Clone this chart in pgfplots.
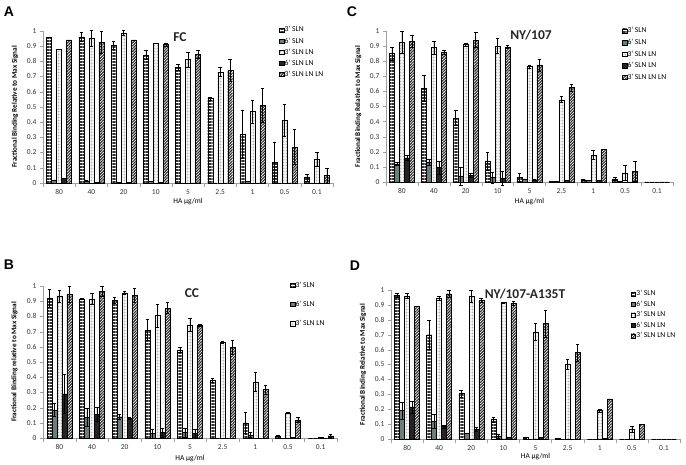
\documentclass[border=0pt]{standalone}
\usepackage{pgfplots}
\pgfplotsset{compat=1.18}
\usepackage{pgfplotstable}
\usepackage{fontspec}
\setmainfont{Carlito}
\newfontfamily\lsans{Liberation Sans}
\usetikzlibrary{patterns,patterns.meta}

\definecolor{sixsln}{HTML}{6B7E7C}
\definecolor{sixslnln}{HTML}{242424}
\definecolor{axgray}{HTML}{A0A0A0}

% columns: value and error for 3'SLN, 6'SLN, 3'SLN LN, 6'SLN LN, 3'SLN LN LN
\pgfplotstableread{
x   a     ae    b     be    c     ce    d     de    e     ee
0.5 0.96  0     0.02  0     0.88  0     0.03  0     0.94  0
1.5 0.96  0.03  0.015 0     0.95  0.05  0.005 0     0.925 0.07
2.5 0.905 0.025 0.005 0     0.985 0.015 0.003 0     0.94  0
3.5 0.84  0.03  0.01  0     0.92  0     0.005 0     0.91  0.01
4.5 0.76  0.02  0     0     0.81  0.05  0     0     0.845 0.025
5.5 0.555 0.01  0     0     0.73  0.03  0     0     0.74  0.07
6.5 0.32  0.155 0.01  0     0.47  0.075 0     0     0.51  0.11
7.5 0.135 0.135 0     0     0.415 0.105 0     0     0.235 0.115
8.5 0.035 0.025 0     0     0.155 0.045 0     0     0.05  0.05
}\dataA
\pgfplotstableread{
x   a     ae    b     be    c     ce    d     de    e     ee
0.5 0.85  0.045 0.12  0.01  0.925 0.075 0.16  0.015 0.93  0.04
1.5 0.62  0.085 0.13  0.02  0.89  0.045 0.095 0.045 0.86  0.012
2.5 0.425 0.05  0.04  0.06  0.91  0.008 0.045 0.012 0.94  0.05
3.5 0.14  0.06  0.03  0.035 0.90  0.05  0.025 0.045 0.895 0.01
4.5 0.03  0.025 0.02  0     0.765 0.01  0.015 0     0.775 0.04
5.5 0.005 0     0.005 0     0.545 0.02  0.01  0     0.625 0.025
6.5 0.015 0.005 0.01  0     0.18  0.03  0.01  0     0.215 0
7.5 0.02  0.01  0.005 0     0.06  0.05  0     0     0.07  0.065
8.5 0     0     0     0     0     0     0     0     0     0
}\dataC
\pgfplotstableread{
x   a     ae    b     be    c     ce    d     de    e     ee
0.5 0.92  0.06  0.185 0.045 0.935 0.04  0.29  0.13  0.945 0.055
1.5 0.915 0.003 0.135 0.06  0.915 0.035 0.155 0.045 0.965 0.035
2.5 0.905 0.02  0.14  0.015 0.955 0.01  0.13  0.005 0.94  0.045
3.5 0.71  0.07  0.03  0.03  0.805 0.075 0.035 0.03  0.855 0.035
4.5 0.58  0.015 0.035 0.03  0.745 0.04  0.03  0.03  0.74  0.008
5.5 0.38  0.015 0     0     0.63  0.005 0     0     0.595 0.045
6.5 0.10  0.07  0.02  0.015 0.37  0.06  0     0     0.32  0.03
7.5 0.01  0.01  0     0     0.165 0.005 0.005 0     0.12  0.015
8.5 0     0     0     0     0.005 0     0     0     0.015 0.01
}\dataB
\pgfplotstableread{
x   a     ae    b     be    c     ce    d     de    e     ee
0.5 0.965 0.015 0.19  0.06  0.96  0.015 0.215 0.04  0.89  0
1.5 0.70  0.095 0.12  0.045 0.945 0.015 0.085 0.01  0.975 0.025
2.5 0.305 0.025 0.04  0     0.96  0.04  0.065 0.015 0.93  0.015
3.5 0.13  0.015 0.02  0.015 0.915 0.005 0.01  0     0.91  0.015
4.5 0.01  0.005 0     0     0.72  0.055 0.01  0     0.775 0.09
5.5 0.005 0     0     0     0.50  0.035 0     0     0.58  0.055
6.5 0     0     0     0     0.19  0.01  0.005 0     0.27  0
7.5 0     0     0     0     0.065 0.02  0     0     0.10  0
8.5 0     0     0     0     0     0     0     0     0     0
}\dataD

\pgfplotsset{
  panel/.style={
    scale only axis, clip=false,
    ybar=0pt, bar width=5pt,
    xmin=0, xmax=9, ymin=0, ymax=1,
    axis x line=bottom, axis y line=left,
    axis line style={-, axgray},
    xtick={0.5,1.5,...,8.5},
    xticklabels={80,40,20,10,5,2.5,1,0.5,0.1},
    minor xtick={0,1,...,9},
    every major x tick/.append style={draw=none},
    every minor x tick/.append style={axgray},
    ytick={0,0.1,...,1},
    y tick style={axgray},
    tick align=outside,
    major tick length=3pt, minor tick length=4pt,
    ticklabel style={font=\fontsize{7.5}{8}\selectfont, text=black!80},
    /pgf/number format/assume math mode=true,
    yticklabel style={/pgf/number format/fixed},
    xlabel={HA µg/ml},
    xlabel style={font=\fontsize{7.5}{8}\selectfont, at={(axis description cs:0.5,0)}, anchor=center},
    ylabel style={font=\bfseries\fontsize{7.2}{7.5}\selectfont, text=black, at={(axis description cs:-0.097,0.5)}, anchor=center},
    legend cell align=left,
    legend image code/.code={\draw[##1, line width=0.4pt] (0pt,-2.2pt) rectangle (4.4pt,2.2pt);},
    legend style={draw=none, fill=none, inner sep=0pt, anchor=north west,
      font=\fontsize{7.6}{7.6}\selectfont,
      nodes={inner sep=0.6pt, text height=5pt, text depth=1.3pt}},
  },
  eb/.style={error bars/.cd, y dir=both, y explicit,
    error bar style={black, line width=0.5pt},
    error mark options={rotate=90, black, mark size=1.8pt, line width=0.5pt}},
  s1/.style={draw=black, pattern={Lines[angle=0, distance=3pt, line width=1.2pt]}, pattern color=black!80, eb},
  s2/.style={draw=black, fill=sixsln, eb},
  s3/.style={draw=black, pattern={Dots[distance=1.5pt, radius=0.3pt]}, pattern color=black!45, eb},
  s4/.style={draw=black, fill=sixslnln, eb},
  s5/.style={draw=black, pattern={Lines[angle=45, distance=2pt, line width=1.1pt]}, pattern color=black!85, eb},
}

\newcommand{\fivebars}[1]{%
  \addplot[s1] table[x=x, y=a, y error=ae] {#1};
  \addplot[s2] table[x=x, y=b, y error=be] {#1};
  \addplot[s3] table[x=x, y=c, y error=ce] {#1};
  \addplot[s4] table[x=x, y=d, y error=de] {#1};
  \addplot[s5] table[x=x, y=e, y error=ee] {#1};
}

\begin{document}
\begin{tikzpicture}
\useasboundingbox (0pt,0pt) rectangle (686pt,464pt);

% A: FC
\begin{axis}[panel, at={(43pt,281pt)}, anchor=south west, width=290pt, height=152.3pt,
  xlabel style={yshift=-19pt},
  ylabel={Fractional Binding Relative to Max Signal},
  legend style={at={(0.814,1.03)}, row sep=3.6pt}]
\fivebars{\dataA}
\legend{3’ SLN, 6’ SLN, 3’ SLN LN, 6’ SLN LN, 3’ SLN LN LN}
\end{axis}

% C: NY/107
\begin{axis}[panel, at={(386pt,282pt)}, anchor=south west, width=287pt, height=151pt,
  xlabel style={yshift=-20pt},
  ylabel={Fractional Binding Relative to Max Signal},
  legend style={at={(0.822,1.026)}, row sep=4.1pt}]
\fivebars{\dataC}
\legend{3’ SLN, 6’ SLN, 3’ SLN LN, 6’ SLN LN, 3’ SLN LN LN}
\end{axis}

% B: CC
\begin{axis}[panel, at={(43pt,26pt)}, anchor=south west, width=294pt, height=152pt,
  xlabel style={yshift=-21pt},
  ylabel={Fractional Binding relative to Max Signal},
  legend style={at={(0.84,1.03)}, row sep=11.6pt}]
\fivebars{\dataB}
\legend{3’ SLN, 6’ SLN, 3’ SLN LN}
\end{axis}

% D: NY/107-A135T
\begin{axis}[panel, at={(391pt,25pt)}, anchor=south west, width=289pt, height=149pt,
  xlabel style={yshift=-18pt},
  ylabel={Fractional Binding Relative to Max Signal},
  legend style={at={(0.83,1.0)}, row sep=3pt}]
\fivebars{\dataD}
\legend{3’ SLN, 6’ SLN, 3’ SLN LN, 6’ SLN LN, 3’ SLN LN LN}
\end{axis}

% panel titles
\node[font=\bfseries\fontsize{13.5}{14}\selectfont, text=black!85] at (180pt,427pt) {FC};
\node[font=\bfseries\fontsize{13.5}{14}\selectfont, text=black!85] at (531pt,429pt) {NY/107};
\node[font=\bfseries\fontsize{13.5}{14}\selectfont, text=black!85] at (192pt,171pt) {CC};
\node[font=\bfseries\fontsize{13.5}{14}\selectfont, text=black!85] at (525pt,170pt) {NY/107-A135T};

% panel letters
\node[font=\lsans\bfseries\fontsize{14}{14}\selectfont] at (9pt,452pt) {A};
\node[font=\lsans\bfseries\fontsize{14}{14}\selectfont] at (352pt,452pt) {C};
\node[font=\lsans\bfseries\fontsize{14}{14}\selectfont] at (9pt,199pt) {B};
\node[font=\lsans\bfseries\fontsize{14}{14}\selectfont] at (355pt,198pt) {D};
\end{tikzpicture}
\end{document}
